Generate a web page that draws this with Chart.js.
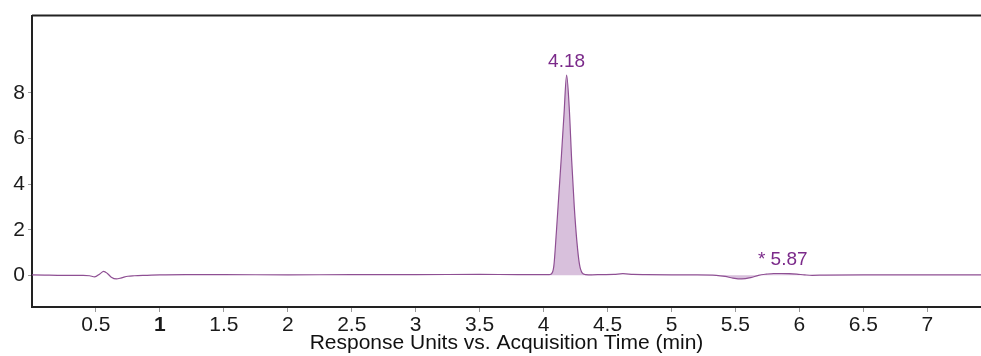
<!DOCTYPE html>
<html>
<head>
<meta charset="utf-8">
<script src="https://cdn.jsdelivr.net/npm/chart.js@4/dist/chart.umd.min.js"></script>
<style>
  html, body { margin: 0; padding: 0; background: #fff; }
  #wrap { width: 981px; height: 356px; }
</style>
</head>
<body>
<div id="wrap"><canvas id="c" width="981" height="356"></canvas></div>
<script>
// ---- data ----
const times = [0, 0.1, 0.2, 0.3, 0.4, 0.45, 0.49, 0.53, 0.56, 0.59, 0.62, 0.66, 0.70, 0.75, 0.8, 0.9, 1.0, 1.2, 1.5, 2.0, 2.5, 3.0, 3.5, 3.8, 4.0, 4.04, 4.06, 4.08, 4.10, 4.12, 4.14, 4.16, 4.18, 4.20, 4.22, 4.24, 4.26, 4.28, 4.30, 4.33, 4.38, 4.45, 4.55, 4.62, 4.70, 4.8, 5.0, 5.2, 5.35, 5.42, 5.48, 5.55, 5.62, 5.68, 5.74, 5.80, 5.86, 5.92, 5.98, 6.04, 6.10, 6.2, 6.5, 7.0, 7.6];
const response = [0.02, 0.01, 0.0, 0.0, 0.0, -0.02, -0.07, 0.06, 0.17, 0.08, -0.08, -0.16, -0.11, -0.04, -0.02, 0.0, 0.02, 0.03, 0.03, 0.02, 0.03, 0.03, 0.04, 0.03, 0.03, 0.03, 0.06, 0.4, 1.9, 3.6, 5.3, 7.1, 8.78, 7.4, 5.0, 3.0, 1.5, 0.5, 0.12, 0.03, 0.02, 0.03, 0.04, 0.07, 0.04, 0.03, 0.02, 0.02, 0.0, -0.05, -0.12, -0.16, -0.1, 0.0, 0.05, 0.08, 0.08, 0.07, 0.05, 0.02, 0.0, 0.01, 0.02, 0.02, 0.02];
// integrated peak windows (start, end in min)
const peakStarts = [4.04, 5.35];
const peakEnds = [4.38, 6.10];
// peak labels
const labelTimes = [4.18, 5.87];
const labelValues = [8.78, 0.08];
const labelTexts = ['4.18', '* 5.87'];
// axis ticks
const xTickValues = [0.5, 1, 1.5, 2, 2.5, 3, 3.5, 4, 4.5, 5, 5.5, 6, 6.5, 7];
const yTickValues = [0, 2, 4, 6, 8];

const FONT = "'Liberation Sans', Arial, sans-serif";
const LINE = '#8e4f93';
const FILL = 'rgba(190,150,196,0.6)';
const LABEL = '#7b2a8a';

const trace = times.map((t, i) => ({ x: t, y: response[i] }));
const peakSets = peakStarts.map((s, k) => ({
  data: trace.filter(p => p.x >= s && p.x <= peakEnds[k]),
  borderColor: LINE,
  borderWidth: 0,
  backgroundColor: FILL,
  fill: 'origin',
  pointRadius: 0,
  cubicInterpolationMode: 'monotone'
}));

const framePlugin = {
  id: 'frame',
  afterDraw(chart) {
    const { ctx, chartArea } = chart;
    ctx.save();
    ctx.strokeStyle = '#222';
    ctx.lineWidth = 2;
    ctx.beginPath();
    ctx.moveTo(chartArea.left, chartArea.top);
    ctx.lineTo(chart.width, chartArea.top);
    ctx.stroke();
    ctx.restore();
  }
};

const labelPlugin = {
  id: 'peakLabels',
  afterDatasetsDraw(chart) {
    const { ctx } = chart;
    const xs = chart.scales.x, ys = chart.scales.y;
    ctx.save();
    ctx.font = '19px ' + FONT;
    ctx.fillStyle = LABEL;
    ctx.textAlign = 'center';
    ctx.textBaseline = 'bottom';
    labelTimes.forEach((t, i) => {
      ctx.fillText(labelTexts[i], xs.getPixelForValue(t), ys.getPixelForValue(labelValues[i]) - 4);
    });
    ctx.restore();
  }
};

new Chart(document.getElementById('c'), {
  type: 'line',
  data: {
    datasets: [
      {
        data: trace,
        borderColor: LINE,
        borderWidth: 1.2,
        pointRadius: 0,
        fill: false,
        cubicInterpolationMode: 'monotone'
      },
      ...peakSets
    ]
  },
  options: {
    responsive: false,
    animation: false,
    devicePixelRatio: 1,
    layout: { padding: { top: 13, left: 0, right: 0, bottom: 0 } },
    plugins: { legend: { display: false }, tooltip: { enabled: false } },
    scales: {
      x: {
        type: 'linear',
        min: 0,
        max: 7.42,
        afterFit(axis) { axis.height = 49; },
        afterBuildTicks(axis) { axis.ticks = xTickValues.map(v => ({ value: v })); },
        ticks: {
          color: '#1a1a1a',
          padding: 1,
          maxRotation: 0,
          autoSkip: false,
          font: (ctx) => ({ family: FONT, size: 21, weight: (ctx.tick && ctx.tick.value === 1) ? 'bold' : 'normal' }),
          callback: (v) => String(v)
        },
        grid: { display: true, drawOnChartArea: false, drawTicks: true, tickLength: 5, color: '#9a9a9a' },
        border: { display: true, color: '#222', width: 2 },
        title: {
          display: true,
          text: 'Response Units vs. Acquisition Time (min)',
          color: '#111',
          font: { family: FONT, size: 21 },
          padding: { top: 0, bottom: 0 }
        }
      },
      y: {
        type: 'linear',
        min: -1.39,
        max: 11.39,
        afterFit(axis) { axis.width = 32; },
        afterBuildTicks(axis) { axis.ticks = yTickValues.map(v => ({ value: v })); },
        ticks: {
          color: '#1a1a1a',
          padding: 3,
          font: { family: FONT, size: 21 },
          callback: (v) => String(v)
        },
        grid: { display: true, drawOnChartArea: false, drawTicks: true, tickLength: 4, color: '#9a9a9a' },
        border: { display: true, color: '#222', width: 2 }
      }
    }
  },
  plugins: [framePlugin, labelPlugin]
});
</script>
</body>
</html>
